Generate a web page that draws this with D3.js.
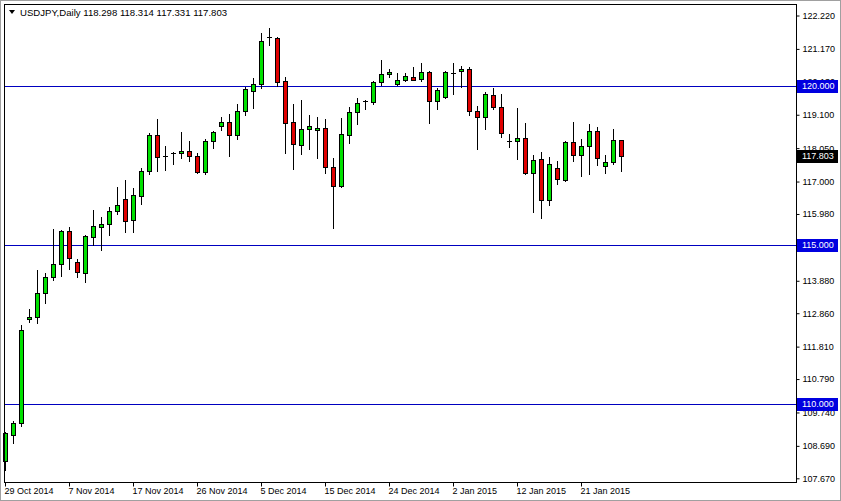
<!DOCTYPE html>
<html><head><meta charset="utf-8">
<script src="https://cdn.jsdelivr.net/npm/d3@7/dist/d3.min.js"></script>
<style>
html,body{margin:0;padding:0;background:#fff;}
svg{display:block;font-family:"Liberation Sans",Arial,sans-serif;}
</style></head>
<body>
<svg id="c" width="841" height="501"></svg>
<script>
const symbolTitle = "USDJPY,Daily";
const dates = ["2014-10-29","2014-10-30","2014-10-31","2014-11-02","2014-11-03","2014-11-04","2014-11-05","2014-11-06","2014-11-07","2014-11-09","2014-11-10","2014-11-11","2014-11-12","2014-11-13","2014-11-14","2014-11-16","2014-11-17","2014-11-18","2014-11-19","2014-11-20","2014-11-21","2014-11-23","2014-11-24","2014-11-25","2014-11-26","2014-11-27","2014-11-28","2014-11-30","2014-12-01","2014-12-02","2014-12-03","2014-12-04","2014-12-05","2014-12-07","2014-12-08","2014-12-09","2014-12-10","2014-12-11","2014-12-12","2014-12-14","2014-12-15","2014-12-16","2014-12-17","2014-12-18","2014-12-19","2014-12-21","2014-12-22","2014-12-23","2014-12-24","2014-12-25","2014-12-26","2014-12-28","2014-12-29","2014-12-30","2014-12-31","2015-01-01","2015-01-02","2015-01-04","2015-01-05","2015-01-06","2015-01-07","2015-01-08","2015-01-09","2015-01-11","2015-01-12","2015-01-13","2015-01-14","2015-01-15","2015-01-16","2015-01-18","2015-01-19","2015-01-20","2015-01-21","2015-01-22","2015-01-23","2015-01-25","2015-01-26","2015-01-27"];
const open  = [108.19,109.05,109.40,112.67,112.73,113.52,114.01,114.39,115.43,114.46,114.14,115.24,115.58,115.64,116.06,116.45,115.77,116.55,117.31,118.46,117.79,117.91,117.89,117.95,117.80,117.29,118.26,118.74,118.86,118.45,119.21,119.86,120.06,121.53,121.52,120.16,118.86,118.16,118.63,118.60,118.67,117.46,116.87,118.47,119.18,119.52,119.48,120.12,120.37,120.06,120.19,120.29,120.21,120.43,119.52,119.65,120.40,120.47,120.53,119.21,119.02,119.71,119.33,118.28,118.25,118.36,117.26,117.70,116.41,117.41,117.04,118.23,117.82,118.11,118.58,117.48,117.60,118.298];
const high  = [109.12,109.46,112.48,112.99,114.22,114.13,115.51,115.47,115.57,114.58,115.33,116.11,115.89,116.21,116.83,117.05,116.80,117.41,118.52,118.97,118.12,117.94,118.56,118.27,117.91,118.34,118.59,119.03,119.12,119.44,119.98,120.26,121.68,121.84,121.55,120.30,119.44,119.56,119.08,119.04,118.97,117.75,118.99,119.33,119.62,119.57,120.16,120.82,120.53,120.40,120.42,120.60,120.73,120.47,119.93,120.46,120.74,120.63,120.59,119.37,119.81,119.93,119.74,118.48,119.32,118.85,117.82,117.92,117.76,117.64,118.29,118.87,118.33,118.80,118.70,117.82,118.64,118.314];
const low   = [107.93,108.79,109.31,112.59,112.56,113.17,113.90,114.03,114.24,114.01,113.85,115.00,114.86,115.31,115.99,115.42,115.42,116.30,117.23,117.33,117.37,117.55,117.75,117.64,117.26,117.23,118.06,118.62,117.81,118.35,119.10,119.32,119.93,121.30,120.00,117.91,117.40,117.87,118.03,117.75,117.28,115.55,116.84,118.22,118.82,119.29,119.45,120.03,120.28,120.03,120.15,120.19,120.15,118.83,119.27,119.64,119.75,119.96,119.08,118.03,118.66,119.27,118.39,118.09,117.72,117.23,116.05,115.84,116.25,116.91,117.01,117.64,117.16,117.23,117.51,117.26,117.55,117.331];
const close = [109.08,109.42,112.33,112.74,113.48,114.01,114.41,115.43,114.59,114.14,115.29,115.59,115.66,116.06,116.25,115.77,116.57,117.33,118.45,117.78,117.79,117.91,117.96,117.78,117.29,118.27,118.55,118.86,118.45,119.22,119.91,120.07,121.42,121.53,120.14,118.85,118.16,118.65,118.74,118.67,117.45,116.87,118.49,119.18,119.47,119.52,120.12,120.38,120.44,120.18,120.32,120.21,120.43,119.52,119.87,120.43,120.40,120.53,119.21,119.02,119.74,119.33,118.52,118.28,118.36,117.26,117.67,116.41,117.54,117.07,118.23,117.82,118.11,118.58,117.73,117.60,118.30,117.803];
const priceTicks = [122.220,121.170,120.130,119.100,118.050,117.000,115.980,113.880,112.860,111.810,110.790,109.740,108.690,107.670];
const levelLines = [120.000,115.000,110.000];
const labelEvery = 8;

const W = 841, H = 501;
const frame = {left:4, top:4, right:796, bottom:482};
const svg = d3.select("#c");

const x = d3.scaleLinear().domain([0, dates.length-1]).range([5, 621]);
const y = d3.scaleLinear().domain([107.67, 122.22]).range([478.3, 15.5]);
const fmt = d3.format(".3f");
const parse = d3.timeParse("%Y-%m-%d");
const dfmt = d3.timeFormat("%-d %b %Y");

// outer window border
svg.append("rect").attr("x",0.5).attr("y",0.5).attr("width",W-1).attr("height",H-1)
  .attr("fill","#fff").attr("stroke","#a0a0a0");

// level lines
const gl = svg.append("g");
gl.selectAll("line").data(levelLines).join("line")
  .attr("x1",frame.left).attr("x2",frame.right)
  .attr("y1",d=>Math.round(y(d))+0.5).attr("y2",d=>Math.round(y(d))+0.5)
  .attr("stroke","#0000c0").attr("stroke-width",1);

// candles
const data = dates.map((d,i)=>({i, o:open[i], h:high[i], l:low[i], c:close[i]}));
const gc = svg.append("g");
const cx = d=>Math.round(x(d.i));
gc.selectAll("line.w").data(data).join("line").attr("class","w")
  .attr("x1",d=>cx(d)+0.5).attr("x2",d=>cx(d)+0.5)
  .attr("y1",d=>Math.round(y(d.h))).attr("y2",d=>Math.round(y(d.l))+1)
  .attr("stroke","#000").attr("stroke-width",1);
gc.selectAll("rect.b").data(data.filter(d=>Math.abs(y(d.o)-y(d.c))>=1)).join("rect").attr("class","b")
  .attr("x",d=>cx(d)-2+0.5)
  .attr("y",d=>Math.round(Math.min(y(d.o),y(d.c)))+0.5)
  .attr("width",4)
  .attr("height",d=>Math.max(1,Math.round(Math.abs(y(d.o)-y(d.c)))))
  .attr("fill",d=>d.c>=d.o?"#00e000":"#e00000")
  .attr("stroke","#000").attr("stroke-width",1);
gc.selectAll("line.dj").data(data.filter(d=>Math.abs(y(d.o)-y(d.c))<1)).join("line").attr("class","dj")
  .attr("x1",d=>cx(d)-2).attr("x2",d=>cx(d)+3)
  .attr("y1",d=>Math.round(y(d.c))+0.5).attr("y2",d=>Math.round(y(d.c))+0.5)
  .attr("stroke","#000").attr("stroke-width",1);

// frame
svg.append("rect").attr("x",frame.left+0.5).attr("y",frame.top+0.5)
  .attr("width",frame.right-frame.left).attr("height",frame.bottom-frame.top)
  .attr("fill","none").attr("stroke","#000");

// right price axis
const ya = d3.axisRight(y).tickValues(priceTicks).tickSize(3).tickPadding(3).tickFormat(fmt);
const gy = svg.append("g").attr("transform",`translate(${frame.right+0.5},0)`).call(ya);
gy.select(".domain").remove();
gy.selectAll("text").attr("font-size",9).attr("fill","#000").attr("font-family","Liberation Sans, Arial, sans-serif");
gy.selectAll("line").attr("stroke","#000");

// bottom time axis
const tickIdx = d3.range(0, dates.length, labelEvery);
const xa = d3.axisBottom(x).tickValues(tickIdx).tickSize(4).tickFormat(i=>dfmt(parse(dates[i])));
const gx = svg.append("g").attr("transform",`translate(0,${frame.bottom+0.5})`).call(xa);
gx.select(".domain").remove();
gx.selectAll("text").attr("text-anchor","start").attr("dx",-1).attr("dy","0.55em")
  .attr("font-size",9).attr("fill","#000").attr("font-family","Liberation Sans, Arial, sans-serif");
gx.selectAll("line").attr("stroke","#000");

// level labels
const lv = svg.append("g");
levelLines.forEach(v=>{
  const yy = Math.round(y(v));
  lv.append("rect").attr("x",frame.right+1).attr("y",yy-6).attr("width",41).attr("height",13).attr("fill","#0000e0");
  lv.append("text").attr("x",frame.right+6).attr("y",yy).attr("dy","0.35em").attr("fill","#fff")
    .attr("font-size",9).text(fmt(v));
});
// current price label
const last = close[close.length-1];
const ly = Math.round(y(last));
lv.append("rect").attr("x",frame.right+1).attr("y",ly-6).attr("width",41).attr("height",13).attr("fill","#000");
lv.append("text").attr("x",frame.right+6).attr("y",ly).attr("dy","0.35em").attr("fill","#fff")
  .attr("font-size",9).text(fmt(last));

// header
const hd = svg.append("g");
hd.append("path").attr("d","M9,10 L15,10 L12,14 Z").attr("fill","#000");
const li = open.length-1;
hd.append("text").attr("x",20).attr("y",16).attr("font-size",9.6).attr("fill","#000")
  .text(`${symbolTitle}  ${fmt(open[li])} ${fmt(high[li])} ${fmt(low[li])} ${fmt(close[li])}`);
</script>
</body></html>
